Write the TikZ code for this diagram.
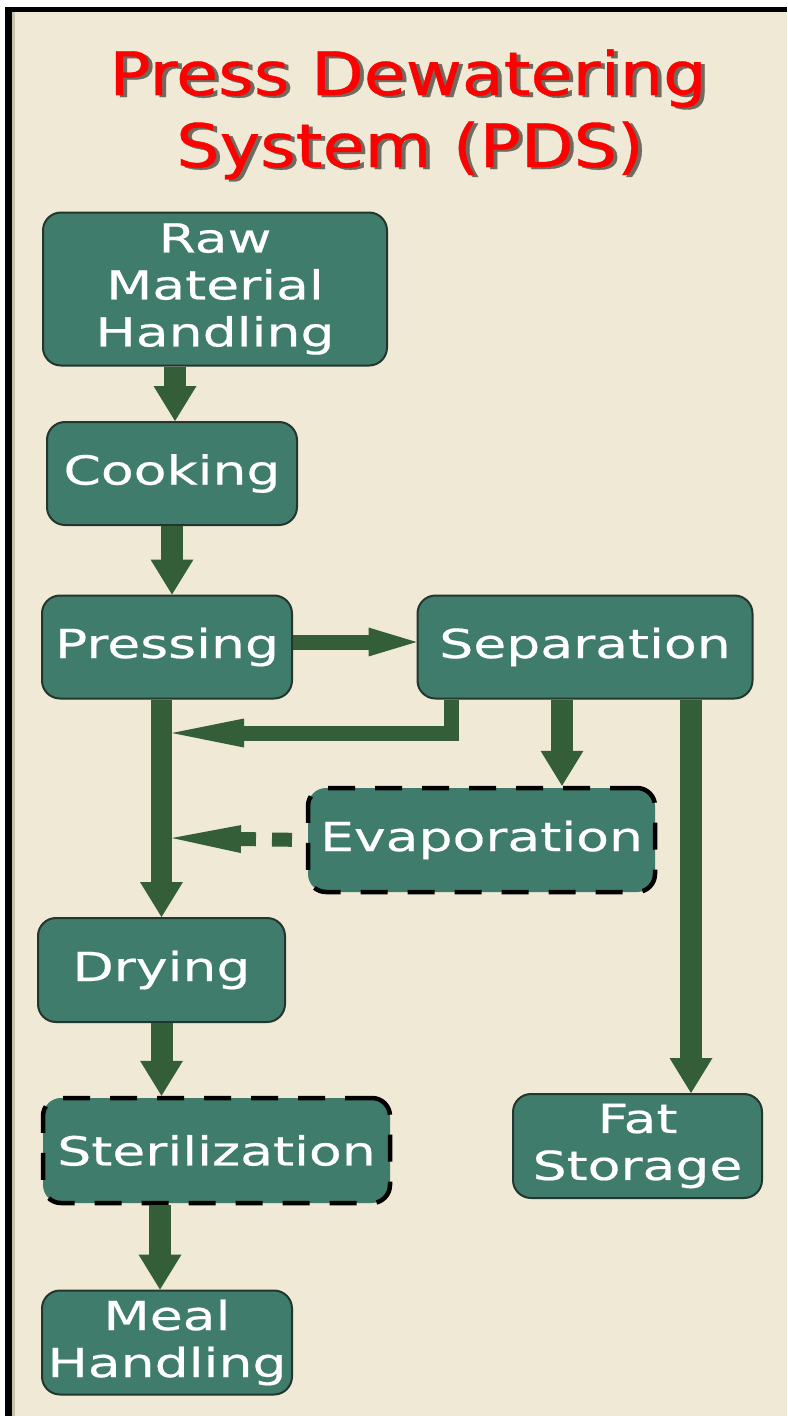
\documentclass[tikz,border=0pt]{standalone}
\usepackage{fontspec}
\newfontfamily\boxfont[FakeStretch=1.34,FakeBold=0.5]{DejaVu Sans}
\newfontfamily\titlefont[FakeStretch=1.14,FakeBold=0.6]{DejaVu Sans}
\usetikzlibrary{arrows.meta}
\definecolor{bg}{HTML}{EFE9D6}
\definecolor{boxfill}{HTML}{407C6C}
\definecolor{boxline}{HTML}{22362E}
\definecolor{arrowc}{HTML}{335E38}
\definecolor{titlered}{HTML}{FF0000}
\definecolor{shadowc}{HTML}{6E6A60}
\definecolor{edgegray}{HTML}{C8C3B0}
\begin{document}
\begin{tikzpicture}[x=1pt,y=-1pt,
  box/.style={draw=boxline, line width=2pt, fill=boxfill, rounded corners=18pt,
    text=white, font=\boxfont\fontsize{40}{47}\selectfont, align=center,
    inner sep=0pt, anchor=center},
  dbox/.style={box, draw=black, line width=4.5pt, dash pattern=on 27pt off 20pt},
  titletext/.style={font=\titlefont\fontsize{60}{71}\selectfont, anchor=base, inner sep=0pt},
  vflow/.style={draw=arrowc, line width=22pt, line cap=butt,
    -{Triangle[length=35pt,width=43pt,line width=0pt]}},
  hflow/.style={draw=arrowc, line width=15pt, line cap=butt,
    -{Triangle[length=48pt,width=29pt,line width=0pt]}},
]
\useasboundingbox (0,0) rectangle (787,1416);
\fill[white] (0,0) rectangle (787,1416);
\fill[black] (5,7) rectangle (787,1416);
\fill[bg] (12,12) rectangle (787,1416);
\fill[edgegray] (12,12) rectangle (14.5,1416);

% title
\node[titletext, text=shadowc] (t1s) at (412,97) {Press Dewatering};
\node[titletext, text=titlered] (t1) at (408,95) {Press Dewatering};
\node[titletext, text=shadowc] (t2s) at (414,169) {System (PDS)};
\node[titletext, text=titlered] (t2) at (410,167) {System (PDS)};

% boxes
\node[box, minimum width=344pt, minimum height=153pt] (raw) at (215,289) {Raw\\Material\\Handling};
\node[box, minimum width=250pt, minimum height=103pt] (cook) at (172,473.5) {Cooking};
\node[box, minimum width=250pt, minimum height=103pt] (press) at (167,647) {Pressing};
\node[box, minimum width=335pt, minimum height=103pt] (sep) at (585,647) {Separation};
\node[dbox, minimum width=347pt, minimum height=104pt] (evap) at (481.5,840) {Evaporation};
\node[box, minimum width=247pt, minimum height=104pt] (dry) at (161.5,970) {Drying};
\node[dbox, minimum width=347pt, minimum height=105pt] (ster) at (216.5,1150.5) {Sterilization};
\node[box, minimum width=250pt, minimum height=104pt] (meal) at (167,1342.5) {Meal\\Handling};
\node[box, minimum width=249pt, minimum height=104pt] (fat) at (637.5,1146) {Fat\\Storage};

% helper coordinates
\coordinate (j1) at (172,733);
\coordinate (j2) at (172,838);
\path ([xshift=3pt]cook.north) coordinate (cn);
\path ([xshift=-7pt]meal.north) coordinate (mn);
\path ([xshift=-134pt]sep.south) coordinate (s1);
\path ([xshift=-23pt]sep.south) coordinate (s2);
\path ([xshift=106pt]sep.south) coordinate (s3);
\path ([yshift=5pt]press.east) coordinate (pe);

% connectors
\draw[vflow] (cn |- raw.south) -- (cn);
\draw[vflow] (cook.south) -- (cook.south |- press.north);
\draw[hflow] (pe) -- (pe -| sep.west);
\draw[vflow, line width=21pt] (dry.north |- press.south) -- (dry.north);
\draw[draw=arrowc, line width=15pt, line join=miter, line cap=butt,
  -{Triangle[length=72pt,width=29pt,line width=0pt]}] (s1) |- (j1);
\draw[vflow] (s2) -- (s2 |- evap.north);
\draw[draw=arrowc, line width=14pt, line cap=butt,
  {Triangle[length=69pt,width=28pt,line width=0pt]}-,
  dash pattern=on 15pt off 16pt on 20pt off 15pt] (j2) -- (evap.west);
\draw[vflow] (s3) -- (s3 |- fat.north);
\draw[vflow] (dry.south) -- (dry.south |- ster.north);
\draw[vflow] (mn |- ster.south) -- (mn);
\end{tikzpicture}
\end{document}
